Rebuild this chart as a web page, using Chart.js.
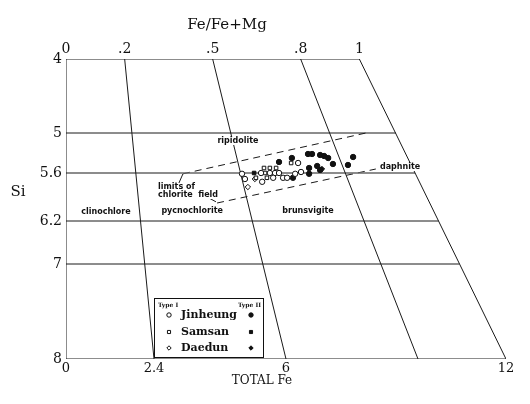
<!DOCTYPE html>
<html>
<head>
<meta charset="utf-8">
<script src="https://cdn.jsdelivr.net/npm/chart.js@4"></script>
<style>
  body { margin: 0; background: #fff; }
</style>
</head>
<body>
<canvas id="Hey_Chart" width="530" height="404"></canvas>
<script>
// axis ticks
const feTicks = [0, 2.4, 6, 12];
const ratioTicks = [0, 0.2, 0.5, 0.8, 1];
const siTicks = [4, 5, 5.6, 6.2, 7, 8];

// diagram frame: Fe/(Fe+Mg) lines run from Si=4 (total 8) to Si=8 (total 12)
const topTotal = 8;
const bottomTotal = 12;
const ratioLines = [0.2, 0.5, 0.8];
const siLines = [5, 5.6, 6.2, 7];
const siLineEnds = [9.0, 9.52, 10.16, 10.73];

// limits of chlorite field (dashed)
const fieldUpperX = [3.19, 8.18];
const fieldUpperY = [5.61, 5.0];
const fieldLowerX = [4.12, 8.45];
const fieldLowerY = [5.975, 5.54];

// samples, Type I (open) and Type II (filled)
const jinheung1X = [4.80, 4.88, 5.35, 5.32, 5.56, 5.70, 5.81, 5.65, 5.92, 6.03, 6.25, 6.41, 6.33];
const jinheung1Y = [5.61, 5.675, 5.71, 5.60, 5.60, 5.60, 5.60, 5.66, 5.66, 5.66, 5.61, 5.585, 5.45];
const samsan1X = [5.40, 5.56, 5.73, 5.18, 5.43, 5.48, 6.14];
const samsan1Y = [5.525, 5.525, 5.525, 5.66, 5.60, 5.66, 5.45];
const daedun1X = [4.96, 5.15];
const daedun1Y = [5.775, 5.675];
const jinheung2X = [5.81, 6.16, 6.19, 6.60, 6.71, 6.63, 6.63, 6.85, 6.93, 6.93, 7.04, 7.15, 7.28, 7.69, 7.83];
const jinheung2Y = [5.435, 5.375, 5.66, 5.315, 5.315, 5.525, 5.61, 5.495, 5.555, 5.33, 5.345, 5.375, 5.465, 5.48, 5.36];
const samsan2X = [5.13];
const samsan2Y = [5.60];
const daedun2X = [6.98];
const daedun2Y = [5.54];

// field names
const fieldNames = ['ripidolite', 'daphnite', 'clinochlore', 'pycnochlorite', 'brunsvigite', 'limits of', 'chlorite  field'];
const fieldNameX = [4.69, 9.11, 1.09, 3.44, 6.60, 2.51, 2.51];
const fieldNameY = [5.12, 5.51, 6.09, 6.075, 6.075, 5.775, 5.875];

const pts = (xs, ys) => xs.map((x, i) => ({ x: x, y: ys[i] }));

// Si axis of the original figure is not to scale: piecewise linear
class PiecewiseScale extends Chart.LinearScale {
  getPixelForValue(value) {
    const b = this.options.breaks, f = this.options.fracs;
    let d = f[f.length - 1];
    if (value <= b[0]) d = f[0];
    for (let i = 1; i < b.length; i++) {
      if (value >= b[i - 1] && value <= b[i]) {
        d = f[i - 1] + (value - b[i - 1]) / (b[i] - b[i - 1]) * (f[i] - f[i - 1]);
        break;
      }
    }
    return this.getPixelForDecimal(d);
  }
  getValueForPixel(pixel) {
    const b = this.options.breaks, f = this.options.fracs;
    const d = this.getDecimalForPixel(pixel);
    for (let i = 1; i < f.length; i++) {
      if (d <= f[i]) return b[i - 1] + (d - f[i - 1]) / (f[i] - f[i - 1]) * (b[i] - b[i - 1]);
    }
    return b[b.length - 1];
  }
}
PiecewiseScale.id = 'piecewise';
PiecewiseScale.defaults = Chart.LinearScale.defaults;
Chart.register(PiecewiseScale);

function line(data, opts) {
  return Object.assign({
    data: data, showLine: true, borderColor: '#1a1a1a', borderWidth: 1,
    pointRadius: 0, pointHoverRadius: 0, fill: false, tension: 0, order: 2
  }, opts || {});
}
function marks(data, style, filled) {
  return {
    data: data, showLine: false, pointStyle: style,
    pointRadius: style === 'rect' ? 2.5 : 2.7,
    backgroundColor: filled ? '#111' : '#fff',
    borderColor: '#111', borderWidth: 1, order: 1
  };
}

const datasets = [];
datasets.push(line(pts([0, topTotal, bottomTotal, 0, 0], [4, 4, 8, 8, 4])));
ratioLines.forEach(r => datasets.push(line(pts([r * topTotal, r * bottomTotal], [4, 8]))));
siLines.forEach((s, i) => datasets.push(line(pts([0, siLineEnds[i]], [s, s]),
  s === 5.6 ? { borderColor: '#666', borderWidth: 1.4 } : {})));
datasets.push(line(pts(fieldUpperX, fieldUpperY), { borderDash: [7, 5] }));
datasets.push(line(pts(fieldLowerX, fieldLowerY), { borderDash: [7, 5] }));
datasets.push(line(pts([3.08, 3.19], [5.725, 5.61])));
datasets.push(line(pts([3.85, 4.09], [5.9, 5.96])));
datasets.push(marks(pts(jinheung1X, jinheung1Y), 'circle', false));
datasets.push(marks(pts(samsan1X, samsan1Y), 'rect', false));
datasets.push(marks(pts(daedun1X, daedun1Y), 'rectRot', false));
datasets.push(marks(pts(jinheung2X, jinheung2Y), 'circle', true));
datasets.push(marks(pts(samsan2X, samsan2Y), 'rect', true));
datasets.push(marks(pts(daedun2X, daedun2Y), 'rectRot', true));

const serif = 'DejaVu Serif';

const annotate = {
  id: 'annotate',
  afterDatasetsDraw(chart) {
    const ctx = chart.ctx, sx = chart.scales.x, sy = chart.scales.y;
    ctx.save();
    ctx.textBaseline = 'middle';
    ctx.font = 'bold 8px "DejaVu Sans"';
    fieldNames.forEach((t, i) => {
      const x = sx.getPixelForValue(fieldNameX[i]), y = sy.getPixelForValue(fieldNameY[i]);
      ctx.textAlign = i >= 5 ? 'left' : 'center';
      const w = ctx.measureText(t).width;
      const left = i >= 5 ? x : x - w / 2;
      ctx.fillStyle = '#fff';
      ctx.fillRect(left - 1, y - 4, w + 2, 8);
      ctx.fillStyle = '#111';
      ctx.fillText(t, x, y);
    });
    // titles
    ctx.fillStyle = '#111';
    ctx.textAlign = 'center';
    ctx.font = '15px "' + serif + '"';
    ctx.fillText('Fe/Fe+Mg', 227, 25);
    ctx.fillText('Si', 18, 192);
    ctx.font = '12px "' + serif + '"';
    ctx.fillText('TOTAL Fe', 262, 381);
    // legend box
    ctx.fillStyle = '#fff';
    ctx.fillRect(154, 298, 109, 59);
    ctx.strokeStyle = '#111';
    ctx.lineWidth = 1;
    ctx.strokeRect(154.5, 298.5, 109, 59);
    ctx.fillStyle = '#111';
    ctx.font = 'bold 6px "' + serif + '"';
    ctx.textAlign = 'left';
    ctx.fillText('Type I', 158, 305);
    ctx.textAlign = 'right';
    ctx.fillText('Type II', 261, 305);
    const names = ['Jinheung', 'Samsan', 'Daedun'];
    const styles = ['circle', 'rect', 'rectRot'];
    const rows = [315, 332, 348];
    ctx.font = 'bold 11px "' + serif + '"';
    ctx.textAlign = 'left';
    names.forEach((n, i) => {
      ctx.fillStyle = '#111';
      ctx.fillText(n, 181, rows[i]);
      ctx.fillStyle = '#fff';
      Chart.helpers.drawPoint(ctx, { pointStyle: styles[i], radius: 2.2, borderWidth: 1 }, 169, rows[i]);
      ctx.fillStyle = '#111';
      Chart.helpers.drawPoint(ctx, { pointStyle: styles[i], radius: 2.2, borderWidth: 1 }, 251, rows[i]);
    });
    ctx.restore();
  }
};

new Chart(document.getElementById('Hey_Chart'), {
  type: 'scatter',
  data: { datasets: datasets },
  options: {
    responsive: false,
    animation: false,
    layout: { padding: { right: 24 } },
    plugins: { legend: { display: false }, tooltip: { enabled: false } },
    scales: {
      x: {
        type: 'linear', position: 'bottom', min: 0, max: 12,
        afterBuildTicks: s => { s.ticks = feTicks.map(v => ({ value: v })); },
        afterFit: s => { s.height = 45; },
        grid: { display: false, drawTicks: false },
        border: { display: false },
        ticks: { color: '#111', padding: 2, maxRotation: 0, font: { family: serif, size: 13 }, callback: v => String(v) }
      },
      x2: {
        type: 'linear', position: 'top', min: 0, max: bottomTotal / topTotal,
        afterBuildTicks: s => { s.ticks = ratioTicks.map(v => ({ value: v })); },
        afterFit: s => { s.height = 59; },
        grid: { display: false, drawTicks: false },
        border: { display: false },
        ticks: { color: '#111', padding: 1, maxRotation: 0, font: { family: serif, size: 14 },
          callback: v => (v === 0 || v === 1) ? String(v) : String(v).replace(/^0/, '') }
      },
      y: {
        type: 'piecewise', min: 4, max: 8, reverse: true,
        breaks: siTicks,
        fracs: [0, 74 / 300, 114 / 300, 162 / 300, 205 / 300, 1],
        afterBuildTicks: s => { s.ticks = siTicks.map(v => ({ value: v })); },
        afterFit: s => { s.width = 66; },
        grid: { display: false, drawTicks: false },
        border: { display: false },
        ticks: { color: '#111', padding: 4, font: { family: serif, size: 14 }, callback: v => String(v) }
      }
    }
  },
  plugins: [annotate]
});
</script>
</body>
</html>
